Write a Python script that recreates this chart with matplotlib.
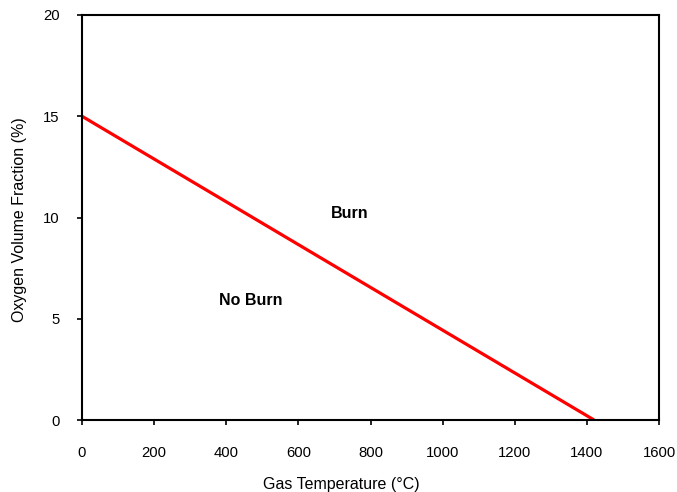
import matplotlib.pyplot as plt

# burn / no-burn boundary
gas_temp = [0, 1420]
o2_fraction = [15, 0]

x_ticks = [0, 200, 400, 600, 800, 1000, 1200, 1400, 1600]
y_ticks = [0, 5, 10, 15, 20]

plt.rcParams['font.family'] = ['Liberation Sans', 'DejaVu Sans']

fig = plt.figure(figsize=(6.77, 4.92), dpi=100)
ax = fig.add_axes([82 / 677, 1 - 420 / 492, (659 - 82) / 677, (420 - 15) / 492])

ax.plot(gas_temp, o2_fraction, color='#ff0000', linewidth=2.3, solid_capstyle='butt')

ax.text(743, 10.2, 'Burn', fontsize=11.5, fontweight='bold', ha='center', va='center')
ax.text(469, 5.9, 'No Burn', fontsize=11.5, fontweight='bold', ha='center', va='center')

ax.set_xlim(0, 1600)
ax.set_ylim(0, 20)
ax.set_xticks(x_ticks)
ax.set_yticks(y_ticks)
ax.tick_params(direction='out', length=3.6, width=1.2, labelsize=10.7)
ax.tick_params(axis='x', pad=15)
ax.tick_params(axis='y', pad=12.5)
for s in ax.spines.values():
    s.set_linewidth(1.5)

ax.set_xlabel('Gas Temperature (°C)', fontsize=11.5)
ax.set_ylabel('Oxygen Volume Fraction (%)', fontsize=11.5)
# label positions in axes fraction (label sits left of centre in the original)
ax.xaxis.set_label_coords((341 - 82) / 577, -(485 - 420) / 405)
ax.yaxis.set_label_coords(-(82 - 20) / 577, (420 - 220) / 405)
ax.xaxis.label.set_va('center')
ax.yaxis.label.set_va('center')

fig.savefig('out.png', dpi=100)
